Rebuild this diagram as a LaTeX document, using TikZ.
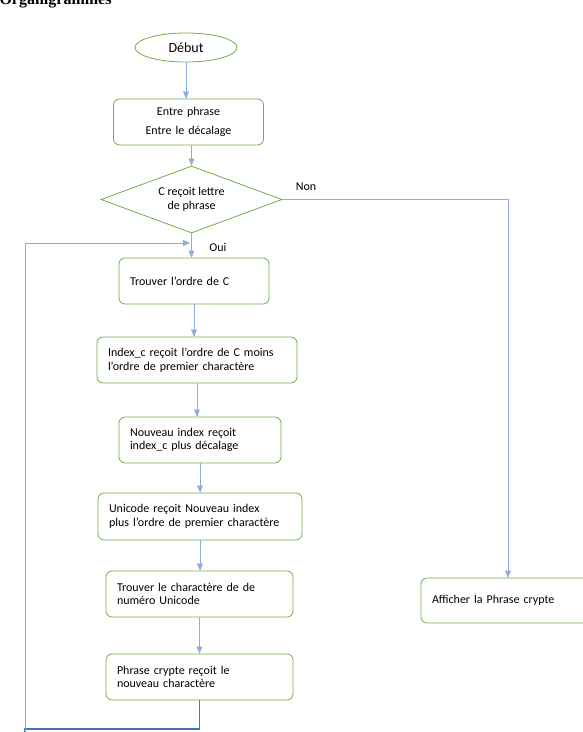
\documentclass[tikz,border=0pt]{standalone}
\usepackage{fontspec}
\setmainfont{Carlito}
\newfontfamily\titlefont{Liberation Serif}
\usetikzlibrary{arrows}
\usetikzlibrary{shapes}
\definecolor{boxGreen}{RGB}{112,173,71}
\definecolor{lineBlue}{RGB}{68,114,196}
\definecolor{paleBlue}{RGB}{143,170,220}

\begin{document}
\begin{tikzpicture}[x = 1pt, y = -1pt, font = \fontsize{12}{13.5}\selectfont]
\tikzstyle{startStyle} = [shape = ellipse, draw = boxGreen, line width = 0.8pt, minimum width = 102pt, minimum height = 29pt, inner sep = 0pt, font = \fontsize{14}{16}\selectfont]
\tikzstyle{boxStyle} = [shape = rectangle, rounded corners = 6pt, draw = boxGreen, line width = 0.8pt, align = left, inner xsep = 11pt, inner ysep = 0pt, minimum height = 46pt]
\tikzstyle{decisionStyle} = [shape = diamond, draw = boxGreen, line width = 0.8pt, aspect = 2.7, minimum width = 181pt, minimum height = 67pt, inner sep = 0pt, align = center]
\tikzstyle{arrowStyle} = [draw = paleBlue, line width = 0.6pt, -triangle 45]
\tikzstyle{loopStyle} = [draw = lineBlue, line width = 1.1pt]
\useasboundingbox (0,0) rectangle (583,732);
\node[anchor = base west, font = \titlefont\bfseries\fontsize{16}{16}\selectfont] (title) at (-4,4) {Organigrammes};
\node[startStyle] (debut) at (186,47.5) {Début};
\node[boxStyle, align = center, text width = 128pt, font = \fontsize{12}{19}\selectfont] (b1) at (188.5,122) {Entre phrase\\Entre le décalage};
\node[decisionStyle] (dec) at (191.5,199.5) {C reçoit lettre\\de phrase};
\node[boxStyle, text width = 128pt] (b2) at (194,281) {Trouver l’ordre de C};
\node[boxStyle, text width = 178pt] (b3) at (197,360) {Index\_c reçoit l’ordre de C moins\\l’ordre de premier charactère};
\node[boxStyle, text width = 140pt] (b4) at (200,440) {Nouveau index reçoit\\index\_c plus décalage};
\node[boxStyle, text width = 182pt, minimum height = 47pt] (b5) at (200,516.5) {Unicode reçoit Nouveau index\\plus l’ordre de premier charactère};
\node[boxStyle, text width = 165pt] (b6) at (199.5,594) {Trouver le charactère de de\\numéro Unicode};
\node[boxStyle, text width = 165pt] (b7) at (199.5,677) {Phrase crypte reçoit le\\nouveau charactère};
\node[boxStyle, text width = 152pt, minimum height = 45pt] (b8) at (508,600.5) {Afficher la Phrase crypte};
\node (non) at (306,187) {Non};
\node (oui) at (218,247) {Oui};
\coordinate (loopA) at (25,729);
\coordinate (loopB) at (25,243);
\coordinate (loopC) at (190,243);
\draw[arrowStyle] (debut.south) -- (debut.south |- b1.north);
\draw[arrowStyle] (dec.north |- b1.south) -- (dec.north);
\draw[arrowStyle] (dec.south) -- (dec.south |- b2.north);
\draw[arrowStyle] (b2.south) -- (b2.south |- b3.north);
\draw[arrowStyle] (b3.south) -- (b3.south |- b4.north);
\draw[arrowStyle] (b4.south) -- (b4.south |- b5.north);
\draw[arrowStyle] (b5.south) -- (b5.south |- b6.north);
\draw[arrowStyle] (b6.south) -- (b6.south |- b7.north);
\draw[arrowStyle] (dec.east) -| (b8.north);
\draw[loopStyle] (b7.south) |- (loopA) -- ([yshift = -120pt]loopA);
\draw[arrowStyle] ([yshift = -120pt]loopA) -- (loopB) -- (loopC);
\end{tikzpicture}
\end{document}
